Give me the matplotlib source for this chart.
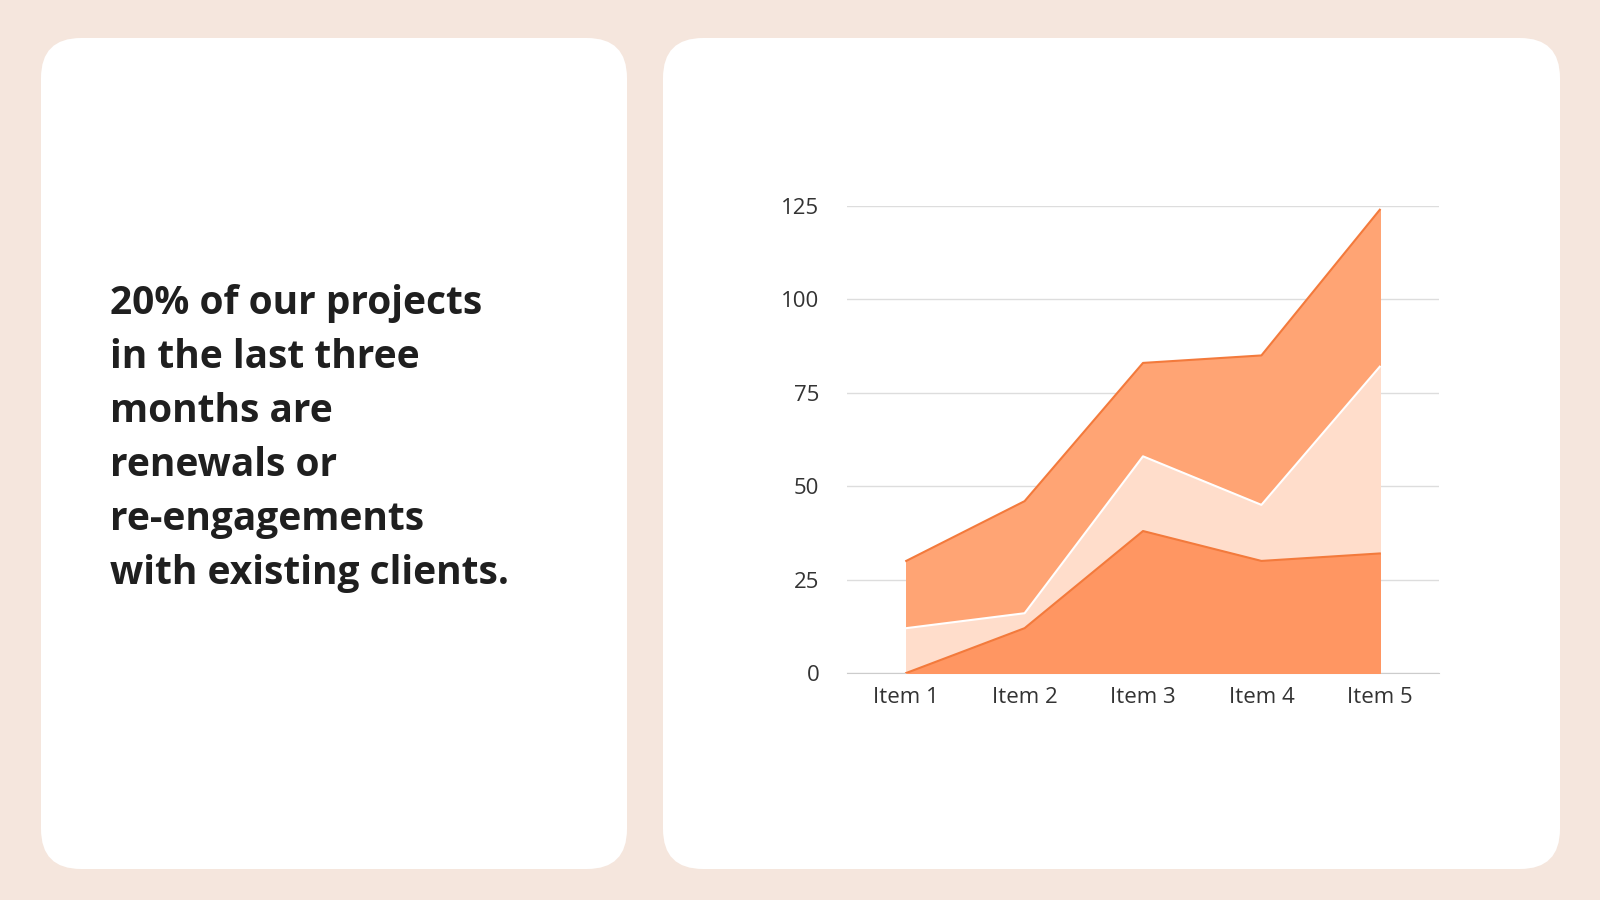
import matplotlib.pyplot as plt
from matplotlib.patches import FancyBboxPatch

# data
items = ["Item 1", "Item 2", "Item 3", "Item 4", "Item 5"]
series_low = [0, 12, 38, 30, 32]
series_mid = [12, 16, 58, 45, 82]
series_top = [30, 46, 83, 85, 124]
yticks = [0, 25, 50, 75, 100, 125]
caption = ("20% of our projects\nin the last three\nmonths are\nrenewals or\n"
           "re-engagements\nwith existing clients.")

plt.rcParams["font.family"] = ["Open Sans", "DejaVu Sans"]

W, H = 1600, 900
fig = plt.figure(figsize=(16, 9), dpi=100, facecolor="#F5E6DD")

# rounded white cards (pixel coords -> figure fraction)
def card(x0, y0, x1, y1):
    p = FancyBboxPatch((x0 / W, 1 - y1 / H), (x1 - x0) / W, (y1 - y0) / H,
                       boxstyle="round,pad=0,rounding_size=0.025",
                       transform=fig.transFigure, facecolor="white",
                       edgecolor="none", mutation_aspect=16 / 9, zorder=-5)
    fig.patches.append(p)

card(41, 38, 627, 869)
card(663, 38, 1560, 869)

fig.text(110 / W, 1 - 284 / H, caption, fontsize=28, fontweight="bold",
         color="#1f1f1f", va="top", ha="left", linespacing=1.5)

# chart axes
ax = fig.add_axes([847 / W, 1 - 673 / H, (1439 - 847) / W, (673 - 206) / H])
ax.set_facecolor("none")
x = list(range(len(items)))
ax.fill_between(x, 0, series_top, color="#FFA474", zorder=1)
ax.plot(x, series_top, color="#F37A3C", lw=1.5, zorder=2)
ax.fill_between(x, 0, series_mid, color="#FFDDCB", zorder=3)
ax.plot(x, series_mid, color="white", lw=1.5, zorder=4)
ax.fill_between(x, 0, series_low, color="#FF9662", zorder=5)
ax.plot(x, series_low, color="#F37A3C", lw=1.5, zorder=6)

ax.set_xlim(-0.5, 4.5)
ax.set_ylim(0, 125)
ax.set_yticks(yticks)
ax.set_xticks(x)
ax.set_xticklabels(items)
ax.grid(axis="y", color="#dddddd", lw=1, zorder=0)
ax.set_axisbelow(True)
for s in ["top", "right", "left"]:
    ax.spines[s].set_visible(False)
ax.spines["bottom"].set_color("#cccccc")
ax.tick_params(length=0, labelsize=16, colors="#333333", pad=10)
ax.tick_params(axis="y", pad=20)

fig.savefig("out.png", dpi=100, facecolor=fig.get_facecolor())
